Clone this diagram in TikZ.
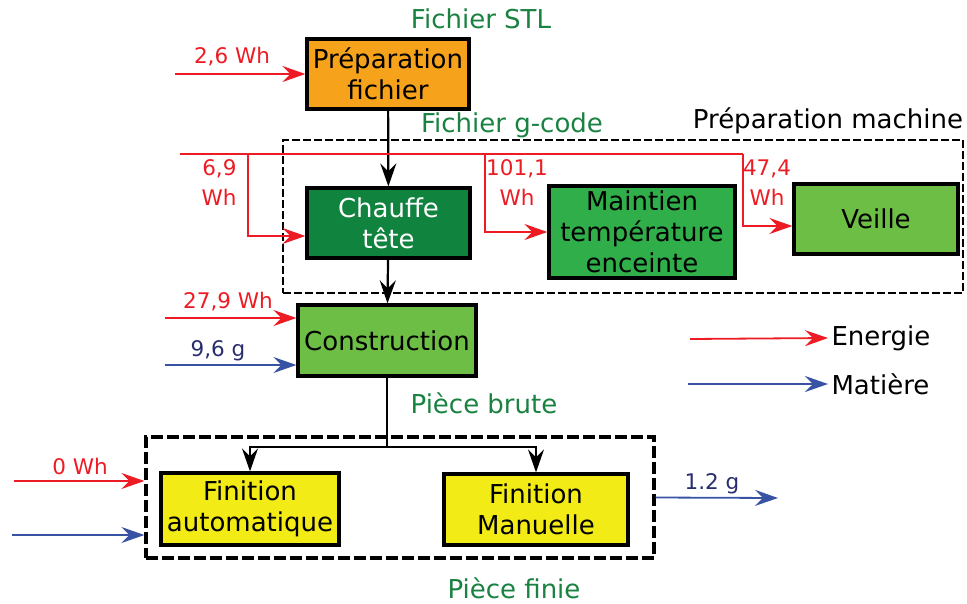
\documentclass[tikz,border=0pt]{standalone}
\usepackage{fontspec}
\setmainfont{DejaVu Sans}
\usetikzlibrary{arrows.meta}

\definecolor{rouge}{RGB}{237,28,36}
\definecolor{bleu}{RGB}{57,83,164}
\definecolor{marine}{RGB}{40,45,110}
\definecolor{vertxt}{RGB}{25,130,65}
\definecolor{orangebox}{RGB}{247,162,27}
\definecolor{vertfonce}{RGB}{16,131,63}
\definecolor{vertmoyen}{RGB}{48,174,73}
\definecolor{vertclair}{RGB}{108,190,69}
\definecolor{jaune}{RGB}{242,235,22}

\begin{document}
\begin{tikzpicture}[x=1pt,y=-1pt,
  bloc/.style={draw, line width=3.2pt, inner sep=0pt, align=center,
    font=\fontsize{26}{31}\selectfont},
  grand/.style={font=\fontsize{26}{31}\selectfont},
  petit/.style={font=\fontsize{21.5}{30}\selectfont, align=center},
  pointe/.style={-{Stealth[length=23pt,width=16pt,inset=8pt]}},
  en/.style={pointe, color=rouge, line width=1.8pt},
  mat/.style={pointe, color=bleu, line width=1.8pt},
  flux/.style={pointe, color=black, line width=2.2pt}]

   \useasboundingbox (0,0) rectangle (967,603);

   % groupes
   \node[draw, dash pattern=on 8pt off 3pt, line width=1.8pt, minimum width=680, minimum height=153] (machine) at (623,216.5) {};
   \node[draw, dash pattern=on 12pt off 4pt, line width=3.2pt, minimum width=508, minimum height=121] (finbox) at (400,497.5) {};

   % blocs
   \node[bloc, fill=orangebox, minimum width=162, minimum height=70] (prep) at (388,74) {Préparation\\fichier};
   \node[bloc, fill=vertfonce, text=white, minimum width=163, minimum height=70] (chauffe) at (388.5,223) {Chauffe\\tête};
   \node[bloc, fill=vertmoyen, minimum width=186, minimum height=92] (maintien) at (642,232) {Maintien\\température\\enceinte};
   \node[bloc, fill=vertclair, minimum width=164, minimum height=70] (veille) at (876,219) {Veille};
   \node[bloc, fill=vertclair, minimum width=178, minimum height=71] (constr) at (387,340.5) {Construction};
   \node[bloc, fill=jaune, minimum width=178, minimum height=72] (finauto) at (250,509) {Finition\\automatique};
   \node[bloc, fill=jaune, minimum width=184, minimum height=71] (finman) at (536,509.5) {Finition\\Manuelle};

   % textes
   \node[grand, text=vertxt] (stl) at (481,19) {Fichier STL};
   \node[grand, text=vertxt] (gcode) at (512,125) {Fichier g-code};
   \node[grand] (prepmach) at (828,121) {Préparation machine};
   \node[grand, text=vertxt] (brute) at (484,403) {Pièce brute};
   \node[grand, text=vertxt] (finie) at (514,588) {Pièce finie};

   % flux principal
   \draw[flux] (prep) -- (chauffe);
   \draw[flux] (chauffe) -- (constr);
   \coordinate (split) at (387,447);
   \draw[line width=2.2pt] (constr) -- (split);
   \draw[flux] (split) -| (finauto.north);
   \draw[flux] (split) -| (finman.north);

   % energie
   \coordinate (e1) at (175,74);
   \draw[en] (e1) -- (prep.west);
   \node[petit, text=rouge] (l1) at (232,57) {2,6 Wh};

   \coordinate (e2) at (180,154);
   \coordinate (e2f) at (743,154);
   \draw[color=rouge, line width=1.8pt] (e2) -- (e2f);
   \draw[en] (248,154) |- ([yshift=-13pt]chauffe.west);
   \draw[en] (485,154) |- (maintien.west);
   \draw[en] (e2f) |- ([yshift=-7pt]veille.west);
   \node[petit, text=rouge, align=right] (l2) at (219,183) {6,9\\Wh};
   \node[petit, text=rouge] (l3) at (517,183) {101,1\\Wh};
   \node[petit, text=rouge] (l4) at (767,183) {47,4\\Wh};

   \coordinate (e3) at (165,318);
   \draw[en] (e3) -- ([yshift=22.5pt]constr.west);
   \node[petit, text=rouge] (l5) at (228,302) {27,9 Wh};
   \coordinate (m1) at (165,365);
   \draw[mat] (m1) -- ([yshift=-24.5pt]constr.west);
   \node[petit, text=marine] (l6) at (218,351) {9,6 g};

   \coordinate (e4) at (14,481);
   \draw[en] (e4) -- ([yshift=16.5pt]finbox.west);
   \node[petit, text=rouge] (l7) at (80,466) {0 Wh};
   \coordinate (m2) at (12,535);
   \draw[mat] (m2) -- ([yshift=-37.5pt]finbox.west);

   \coordinate (m3) at (778,498);
   \draw[mat] (finbox.east) -- (m3);
   \node[petit, text=marine] (l8) at (712,484) {1.2 g};

   % legende
   \node[grand, anchor=west] (legen) at (828,338) {Energie};
   \node[grand, anchor=west] (legmat) at (828,384) {Matière};
   \coordinate (le) at (690,339);
   \coordinate (lm) at (688,384);
   \draw[en] (le) -- (legen.west);
   \draw[mat] (lm) -- (legmat.west);

\end{tikzpicture}
\end{document}
